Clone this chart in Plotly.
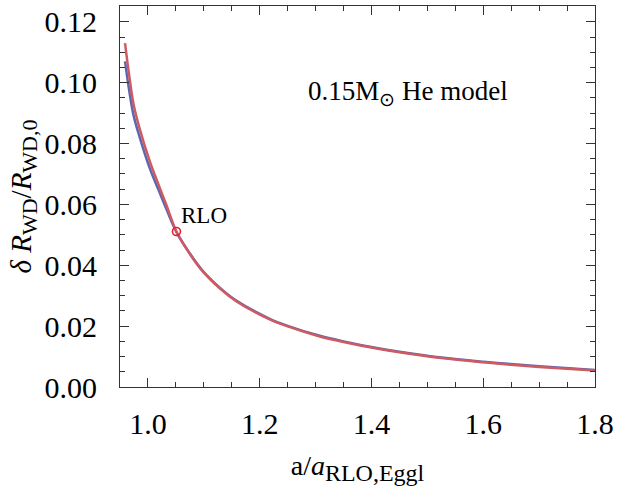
import plotly.graph_objects as go

# data
red_x = [0.959, 0.966, 0.974, 0.985, 1.004, 1.020, 1.033, 1.051, 1.075, 1.098, 1.130, 1.158, 1.217, 1.250, 1.306, 1.350, 1.407, 1.450, 1.525, 1.600, 1.644, 1.700, 1.800]
red_y = [0.1130, 0.1030, 0.0932, 0.0850, 0.0738, 0.0660, 0.0598, 0.0511, 0.0437, 0.0380, 0.0322, 0.0282, 0.0223, 0.0199, 0.0167, 0.0148, 0.0127, 0.0114, 0.0095, 0.0081, 0.0074, 0.0066, 0.0054]
blue_x = [0.959, 0.966, 0.974, 0.985, 1.004, 1.020, 1.033, 1.051, 1.075, 1.098, 1.130, 1.158, 1.217, 1.250, 1.306, 1.350, 1.407, 1.450, 1.525, 1.600, 1.644, 1.700, 1.800]
blue_y = [0.1070, 0.0980, 0.0895, 0.0822, 0.0715, 0.0643, 0.0585, 0.0509, 0.0439, 0.0382, 0.0324, 0.0284, 0.0225, 0.0201, 0.0169, 0.0150, 0.0129, 0.0116, 0.0097, 0.0083, 0.0076, 0.0068, 0.0056]
rlo_x = [1.051]
rlo_y = [0.0511]

FONT = "Liberation Serif"
fs = 30
axc = "#333333"

fig = go.Figure()
fig.add_trace(go.Scatter(x=blue_x, y=blue_y, mode="lines",
                         line=dict(color="#5b68b0", width=2.5, shape="spline", smoothing=1.0),
                         showlegend=False))
fig.add_trace(go.Scatter(x=red_x, y=red_y, mode="lines",
                         line=dict(color="#cf5a62", width=2.5, shape="spline", smoothing=1.0),
                         showlegend=False))
fig.add_trace(go.Scatter(x=rlo_x, y=rlo_y, mode="markers",
                         marker=dict(symbol="circle-open", size=8, color="#e8202a", line=dict(width=1.6)),
                         showlegend=False))

fig.add_annotation(x=1.056, y=0.0565, text="RLO", showarrow=False, xanchor="left", yanchor="middle",
                   font=dict(family=FONT, size=23, color="black"))
fig.add_annotation(x=1.466, y=0.0966, text="0.15M<sub>⊙</sub> He model", showarrow=False,
                   xanchor="center", yanchor="middle", font=dict(family=FONT, size=27, color="black"))

axis_common = dict(showline=True, mirror="allticks", linecolor=axc, linewidth=1,
                   ticks="inside", ticklen=9, tickcolor=axc, tickwidth=1,
                   showgrid=False, zeroline=False,
                   tickfont=dict(family=FONT, size=fs, color="black"))

SUB = "<sub><span style='font-size:{}px'>{}</span></sub>"

fig.update_xaxes(range=[0.95, 1.8], tick0=1.0, dtick=0.2, tickformat=".1f",
                 minor=dict(dtick=0.05, ticks="inside", ticklen=5, tickcolor=axc, showgrid=False),
                 title=dict(text="a/<i>a</i>" + SUB.format(24, "RLO,Eggl"),
                            font=dict(family=FONT, size=28, color="black"), standoff=16),
                 ticklabelstandoff=10,
                 **axis_common)
fig.update_yaxes(range=[0, 0.1252], tick0=0, dtick=0.02, tickformat=".2f",
                 minor=dict(dtick=0.005, ticks="inside", ticklen=5, tickcolor=axc, showgrid=False),
                 title=dict(text="<i>δ R</i>" + SUB.format(22, "WD") + "/<i>R</i>" + SUB.format(22, "WD,0"),
                            font=dict(family=FONT, size=29, color="black"), standoff=4),
                 ticklabelstandoff=16,
                 **axis_common)

fig.update_layout(width=619, height=487, margin=dict(l=120, r=21, t=5, b=100),
                  paper_bgcolor="white", plot_bgcolor="white")

fig.write_html("out.html", config={"displayModeBar": False},
               post_script="document.body.style.margin='0';document.body.style.overflow='hidden';")
